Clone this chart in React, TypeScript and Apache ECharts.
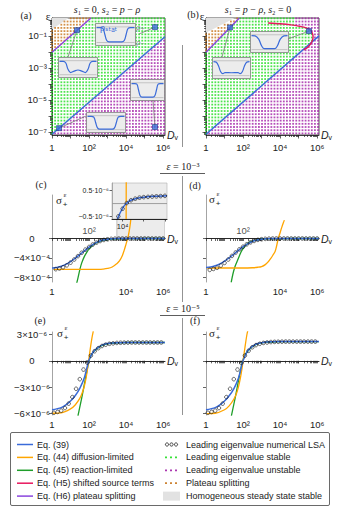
import React, { useEffect, useRef } from "react";
import * as echarts from "echarts";

const SANS = "'Liberation Sans', 'DejaVu Sans', sans-serif";
const SERIF = "'Liberation Serif', 'DejaVu Serif', serif";
const BLUE = "#3a6bd9";
const ORANGE = "#ffa500";
const GREEN = "#1f9e2a";
const RED = "#e8175d";
const PURPLE = "#8a44dd";
const DOT_GREEN = "#22dd22";
const DOT_PURPLE = "#a322a8";
const DOT_ORANGE = "#c8761c";
const GRAY_FILL = "#e2e2e2";
const INK = "#222";

// ---------------- ticks / labels ----------------
const decadeTicksX = [0, 1, 2, 3, 4, 5, 6];
const xLabelVals = [0, 2, 4, 6];
const xLabelTexts = ["1", "10²", "10⁴", "10⁶"];
const xLabelValsCD = [0, 4, 6];
const epsTickVals = [-7, -6, -5, -4, -3, -2, -1, 0];
const epsLabelVals = [-7, -5, -3, -1];
const epsLabelTexts = ["10⁻⁷", "10⁻⁵", "10⁻³", "10⁻¹"];
const sigmaTicksCD = [-8e-4, -4e-4, 0];
const sigmaLabelsCD = ["−8×10⁻⁴", "−4×10⁻⁴", "0"];
const sigmaTicksEF = [-6e-6, -3e-6, 0, 3e-6];
const sigmaLabelsEF = ["−6×10⁻⁶", "−3×10⁻⁶", "0", "3×10⁻⁶"];
const insetTicksC = [-0.5e-6, 0.5e-6];
const insetLabelsC = ["−0.5·10⁻⁶", "0.5·10⁻⁶"];
const insetXTicksC = [4, 5, 6];
const insetXLabelVals = [4];
const insetXLabelTexts = ["10⁴"];

// ---------------- panel (a), (b): exponents log10(Dv), log10(eps) ----------------
const eq39A_logD = [0, 6.1];
const eq39A_logEps = [-7.15, -1.05];
const h6A_logD = [0, 2.1];
const h6A_logEps = [-2.02, 0.12];
const grayA_logD = [0, 0.9, 0];
const grayA_logEps = [0.12, 0.12, -0.58];
const markersA_logD = [5.56, 1.35, 5.56, 0.38];
const markersA_logEps = [-0.45, -0.64, -6.7, -6.77];

const eq39B_logD = [0, 6.1];
const eq39B_logEps = [-7.15, -1.0];
const h6B_logD = [0, 1.8];
const h6B_logEps = [-2.02, 0.12];
const grayB_logD = [0, 1.55, 0];
const grayB_logEps = [0.12, 0.12, -0.8];
const h5B_logD = [3.35, 4.0, 4.59, 5.05, 5.41, 5.62, 5.73, 5.78, 5.74, 5.62, 5.45, 5.28];
const h5B_logEps = [-0.19, -0.24, -0.31, -0.4, -0.5, -0.63, -0.81, -1.05, -1.3, -1.55, -1.75, -1.87];
const unstableB_logD = [4.85, 4.85, 5.41, 5.62, 5.73, 5.78, 5.74, 5.62, 5.45, 5.28, 6.2, 6.2];
const unstableB_logEps = [0.2, -0.37, -0.5, -0.63, -0.81, -1.05, -1.3, -1.55, -1.75, -1.87, -0.9, 0.2];
const markersB_logD = [5.56, 1.3];
const markersB_logEps = [-0.7, -0.47];

// sampling lattice of the numerical LSA (exponents)
const latticeLogD = Array.from({ length: 37 }, (_, i) => +(i * 0.168).toFixed(3));
const latticeLogEps = Array.from({ length: 37 }, (_, j) => +(-7.1 + j * 0.2).toFixed(3));

// ---------------- panel (c), (d): sigma in units of 1e-4 ----------------
const cBlueLogD = [0, 0.25, 0.5, 0.75, 1, 1.25, 1.5, 1.75, 2, 2.25, 2.5, 2.75, 3, 3.25, 3.5, 3.75, 4, 4.5, 5, 5.5, 6.1];
const cBlueVal = [-6.1, -6.0, -5.75, -5.35, -4.8, -4.1, -3.35, -2.55, -1.8, -1.15, -0.65, -0.33, -0.15, -0.06, -0.02, -0.005, 0, 0.002, 0.003, 0.0033, 0.0035];
const dBlueVal = [-6.0, -5.9, -5.65, -5.25, -4.7, -4.0, -3.25, -2.45, -1.7, -1.1, -0.62, -0.32, -0.15, -0.06, -0.02, -0.005, 0, 0, 0, 0, 0];
const cdDotsLogD = [0.2, 0.4, 0.6, 0.8, 1.0, 1.2, 1.4, 1.6, 1.8, 2.0, 2.2, 2.4, 2.6, 2.8, 3.0, 3.2, 3.4, 3.6, 3.8, 4.0, 4.2, 4.4, 4.6, 4.8, 5.0, 5.2, 5.4, 5.6, 5.8, 6.0];
const cDotsVal = [-6.35, -6.2, -5.95, -5.55, -5.0, -4.35, -3.65, -2.95, -2.3, -1.75, -1.25, -0.85, -0.52, -0.3, -0.16, -0.08, -0.035, -0.012, 0, 0, 0, 0, 0, 0, 0, 0, 0, 0, 0, 0];
const dDotsVal = [-6.5, -6.3, -6.05, -5.6, -5.05, -4.35, -3.6, -2.9, -2.25, -1.7, -1.2, -0.8, -0.5, -0.28, -0.15, -0.07, -0.03, -0.01, 0, 0, 0, 0, 0, 0, 0, 0, 0, 0, 0, 0];
const cOrangeLogD = [0.1, 0.5, 1, 1.5, 2, 2.5, 2.75, 3, 3.25, 3.5, 3.65, 3.8, 3.9, 4.0, 4.1, 4.2, 4.3, 4.38];
const cOrangeVal = [-6.4, -6.4, -6.4, -6.4, -6.4, -6.38, -6.33, -6.2, -5.9, -5.2, -4.6, -3.5, -2.4, -1.1, 0.2, 2.3, 5.5, 9.2];
const dOrangeLogD = [0.05, 0.5, 1, 1.5, 2, 2.5, 2.8, 3.0, 3.2, 3.36, 3.5, 3.62, 3.73, 3.82, 3.9, 4.0, 4.09, 4.17, 4.23];
const dOrangeVal = [-6.1, -6.1, -6.1, -6.1, -6.1, -6.05, -5.95, -5.8, -5.4, -4.8, -4.1, -3.4, -2.7, -1.4, 0, 1.2, 2.3, 3.2, 3.8];
const cGreenLogD = [1.33, 1.4, 1.5, 1.6, 1.75, 1.9, 2.0, 2.25, 2.5, 2.75, 3.0, 3.5, 4.0, 5.0, 6.1];
const cGreenVal = [-9.3, -8.2, -6.5, -5.1, -3.7, -2.7, -2.2, -1.25, -0.7, -0.38, -0.21, -0.07, -0.02, -0.002, 0];
const dGreenLogD = [1.36, 1.45, 1.55, 1.65, 1.8, 1.93, 2.1, 2.29, 2.5, 2.83, 3.2, 3.7, 4.5, 6.1];
const dGreenVal = [-9.1, -7.4, -6.0, -5.0, -3.6, -2.5, -1.6, -0.9, -0.55, -0.22, -0.09, -0.03, -0.005, 0];
const zoomBoxC_logD = [3.5, 6.1, 6.1, 3.5];
const zoomBoxC_val = [0.2, 0.2, 4.5, 4.5];

// inset of (c): sigma in units of 1e-6
const ciBlueLogD = [3.65, 3.75, 3.85, 3.95, 4.05, 4.15, 4.25, 4.4, 4.6, 4.8, 5.0, 5.5, 6.1];
const ciBlueVal = [-0.9, -0.62, -0.42, -0.26, -0.12, -0.02, 0.06, 0.13, 0.19, 0.23, 0.25, 0.28, 0.3];
const ciDotsLogD = [3.8, 4.0, 4.2, 4.4, 4.6, 4.8, 5.0, 5.2, 5.4, 5.6, 5.8, 6.0];
const ciDotsVal = [-0.5, -0.2, 0.02, 0.13, 0.19, 0.23, 0.25, 0.26, 0.27, 0.28, 0.29, 0.3];
const ciOrangeLogD = [4.16, 4.17, 4.18];
const ciOrangeVal = [-3, 0, 3];

// ---------------- panel (e), (f): sigma in units of 1e-6 ----------------
const efBlueLogD = [0, 0.25, 0.5, 0.75, 1, 1.25, 1.5, 1.75, 2, 2.25, 2.5, 2.75, 3, 3.5, 4, 5, 6.1];
const eBlueVal = [-5.6, -5.5, -5.35, -5.05, -4.6, -4.0, -3.15, -1.9, 0.1, 1.1, 1.55, 1.85, 1.98, 2.08, 2.1, 2.1, 2.1];
const fBlueVal = [-5.6, -5.5, -5.35, -5.05, -4.6, -4.0, -3.2, -2.0, 0.0, 1.15, 1.65, 1.95, 2.08, 2.18, 2.2, 2.2, 2.2];
const efDotsLogD = [0.1, 0.3, 0.5, 0.7, 0.9, 1.1, 1.3, 1.5, 1.7, 1.9, 2.1, 2.3, 2.5, 2.7, 2.9, 3.1, 3.3, 3.5, 3.7, 3.9, 4.1, 4.3, 4.5, 4.7, 4.9, 5.1, 5.3, 5.5, 5.7, 5.9];
const eDotsVal = [-5.95, -5.85, -5.7, -5.4, -4.9, -4.15, -3.2, -2.1, -1.0, -0.2, 0.6, 1.1, 1.45, 1.7, 1.85, 1.95, 2.0, 2.05, 2.07, 2.08, 2.09, 2.1, 2.1, 2.1, 2.1, 2.1, 2.1, 2.1, 2.1, 2.1];
const fDotsVal = [-5.95, -5.85, -5.7, -5.4, -4.9, -4.15, -3.2, -2.1, -1.0, -0.25, 0.6, 1.15, 1.55, 1.8, 1.95, 2.05, 2.1, 2.15, 2.17, 2.18, 2.19, 2.2, 2.2, 2.2, 2.2, 2.2, 2.2, 2.2, 2.2, 2.2];
const eOrangeLogD = [0.05, 0.5, 1.0, 1.25, 1.5, 1.65, 1.75, 1.85, 1.95, 2.05, 2.15, 2.23];
const eOrangeVal = [-6.0, -5.95, -5.5, -5.05, -4.3, -3.55, -2.85, -1.85, -0.4, 1.15, 2.55, 3.4];
const fOrangeLogD = [0.05, 0.5, 1.0, 1.25, 1.5, 1.65, 1.75, 1.85, 1.95, 2.0, 2.1, 2.2, 2.26];
const fOrangeVal = [-6.05, -6.0, -5.6, -5.15, -4.4, -3.7, -3.0, -2.05, -0.8, 0.0, 1.5, 2.9, 3.5];
const eGreenLogD = [1.4, 1.5, 1.6, 1.7, 1.8, 1.9, 2.0, 2.1, 2.25, 2.5, 2.75, 3.0, 3.5, 4.0, 5, 6.1];
const eGreenVal = [-6.3, -5.3, -4.3, -3.2, -2.1, -1.0, 0.05, 0.6, 1.05, 1.5, 1.8, 1.95, 2.05, 2.1, 2.1, 2.1];
const fGreenLogD = [1.37, 1.47, 1.57, 1.67, 1.77, 1.87, 1.97, 2.1, 2.25, 2.5, 2.75, 3.0, 3.5, 4.0, 5, 6.1];
const fGreenVal = [-6.3, -5.3, -4.3, -3.2, -2.1, -1.0, -0.1, 0.65, 1.1, 1.6, 1.9, 2.05, 2.15, 2.2, 2.2, 2.2];

// ---------------- schematic density profiles for the small insets ----------------
const profU_x = [0, 0.1, 0.17, 0.22, 0.27, 0.33, 0.67, 0.73, 0.78, 0.83, 0.9, 1];
const profU_y = [0.84, 0.84, 0.8, 0.5, 0.2, 0.13, 0.13, 0.2, 0.5, 0.8, 0.84, 0.84];
const profW_x = [0, 0.1, 0.17, 0.23, 0.3, 0.4, 0.5, 0.6, 0.7, 0.77, 0.83, 0.9, 1];
const profW_y = [0.84, 0.84, 0.75, 0.4, 0.22, 0.3, 0.36, 0.3, 0.22, 0.4, 0.75, 0.84, 0.84];
const profS_x = [0, 0.1, 0.2, 0.28, 0.36, 0.64, 0.72, 0.8, 0.9, 1];
const profS_y = [0.84, 0.82, 0.65, 0.3, 0.15, 0.15, 0.3, 0.65, 0.82, 0.84];
const profF_x = [0, 0.08, 0.14, 0.2, 0.26, 0.32, 0.5, 0.68, 0.74, 0.8, 0.86, 0.92, 1];
const profF_y = [0.84, 0.8, 0.6, 0.3, 0.2, 0.26, 0.25, 0.26, 0.2, 0.3, 0.6, 0.8, 0.84];
const refLevels = [0.88, 0.1];

// ---------------- legend ----------------
const legendLines = [
  { label: "Eq. (39)", color: BLUE },
  { label: "Eq. (44) diffusion-limited", color: ORANGE },
  { label: "Eq. (45) reaction-limited", color: GREEN },
  { label: "Eq. (H5) shifted source terms", color: RED },
  { label: "Eq. (H6) plateau splitting", color: PURPLE },
];
const legendMarks = [
  { label: "Leading eigenvalue numerical LSA", kind: "circles", color: "#111" },
  { label: "Leading eigenvalue stable", kind: "dots", color: DOT_GREEN },
  { label: "Leading eigenvalue unstable", kind: "dots", color: DOT_PURPLE },
  { label: "Plateau splitting", kind: "dots", color: DOT_ORANGE },
  { label: "Homogeneous steady state stable", kind: "patch", color: GRAY_FILL },
];

// ---------------- helpers ----------------
const zip = (xs: number[], ys: number[], k = 1) => xs.map((x, i) => [x, ys[i] * k]);
const fmt = (vals: number[], texts: string[]) => (v: number) => {
  for (let i = 0; i < vals.length; i++) {
    if (Math.abs(vals[i] - v) <= Math.abs(vals[i]) * 1e-6 + 1e-15) return texts[i];
  }
  return "";
};
function interp(xs: number[], ys: number[], x: number) {
  let i = 0;
  if (x <= xs[0]) i = 0;
  else if (x >= xs[xs.length - 1]) i = xs.length - 2;
  else while (i < xs.length - 2 && x > xs[i + 1]) i++;
  const t = (x - xs[i]) / (xs[i + 1] - xs[i]);
  return ys[i] + t * (ys[i + 1] - ys[i]);
}
function inPoly(x: number, y: number, xs: number[], ys: number[]) {
  let inside = false;
  for (let i = 0, j = xs.length - 1; i < xs.length; j = i++) {
    if (ys[i] > y !== ys[j] > y && x < ((xs[j] - xs[i]) * (y - ys[i])) / (ys[j] - ys[i]) + xs[i]) inside = !inside;
  }
  return inside;
}
const minorX: number[] = [];
for (let n = 0; n < 6; n++) for (let k = 2; k <= 9; k++) minorX.push(n + Math.log10(k));
const minorEps: number[] = [];
for (let n = -8; n < 0; n++)
  for (let k = 2; k <= 9; k++) {
    const v = n + Math.log10(k);
    if (v > -7.2 && v < 0.12) minorEps.push(v);
  }

function buildOption() {
  const grid: any[] = [];
  const xAxis: any[] = [];
  const yAxis: any[] = [];
  const series: any[] = [];
  const graphic: any[] = [];
  const XR = [0, 6.1];
  const ER = [-7.2, 0.12];
  const tick = { color: INK, width: 0.7 };
  const labelStyle = { fontSize: 9.5, color: INK, fontFamily: SANS };
  const nameStyle = {
    color: INK,
    fontSize: 10.5,
    fontFamily: SANS,
    rich: { i: { fontStyle: "italic", fontSize: 10.5, fontFamily: SANS, color: INK } },
  };

  const G: any = {
    A: { left: 52, top: 18, width: 113, height: 117 },
    B: { left: 206, top: 18, width: 113, height: 117 },
    C: { left: 52, top: 195, width: 113, height: 87 },
    D: { left: 206, top: 195, width: 113, height: 87 },
    E: { left: 52, top: 332, width: 113, height: 83 },
    F: { left: 206, top: 332, width: 113, height: 83 },
    CI: { left: 112, top: 183, width: 55, height: 36 },
  };

  const addGrid = (g: any, frame: boolean) => {
    grid.push({
      left: g.left, top: g.top, width: g.width, height: g.height,
      containLabel: false, show: frame, borderColor: INK, borderWidth: frame ? 0.8 : 0,
      backgroundColor: "transparent",
    });
    return grid.length - 1;
  };
  const addX = (o: any) => { xAxis.push({ type: "value", splitLine: { show: false }, ...o }); return xAxis.length - 1; };
  const addY = (o: any) => { yAxis.push({ type: "value", splitLine: { show: false }, ...o }); return yAxis.length - 1; };

  const line = (xi: number, yi: number, data: any[], color: string, z = 4, width = 1.3, smooth: any = 0.35) => ({
    type: "line", xAxisIndex: xi, yAxisIndex: yi, data, showSymbol: false, symbol: "none",
    smooth, lineStyle: { color, width }, z, silent: true, clip: true, emphasis: { disabled: true },
  });
  const dots = (xi: number, yi: number, data: any[], z = 6) => ({
    type: "scatter", xAxisIndex: xi, yAxisIndex: yi, data, symbol: "circle", symbolSize: 3.6,
    itemStyle: { color: "rgba(255,255,255,0)", borderColor: "#151515", borderWidth: 0.8 }, z, silent: true, clip: true,
  });
  const poly = (xi: number, yi: number, pts: number[][], fill: string, stroke: string | null, z: number) => ({
    type: "custom", xAxisIndex: xi, yAxisIndex: yi, z, silent: true, clip: true, data: pts,
    renderItem: (params: any, api: any) => {
      if (params.dataIndex !== 0) return null;
      return {
        type: "polygon",
        shape: { points: pts.map((p) => api.coord(p)) },
        style: { fill, stroke: stroke || "none", lineWidth: 0.6 },
      };
    },
  });

  // ---------- panels (a) and (b) ----------
  const framePanel = (g: any, showYLabels: boolean) => {
    const gi = addGrid(g, true);
    const xi = addX({
      gridIndex: gi, min: XR[0], max: XR[1], position: "bottom",
      axisLine: { show: true, onZero: false, lineStyle: { color: INK, width: 0.8 } },
      axisTick: { show: true, customValues: decadeTicksX, length: 3.5, lineStyle: tick },
      axisLabel: { show: true, customValues: xLabelVals, formatter: fmt(xLabelVals, xLabelTexts), margin: 7, ...labelStyle },
      name: "{i|D}ᵥ", nameLocation: "end", nameGap: 2, nameTextStyle: nameStyle,
    });
    addX({
      gridIndex: gi, min: XR[0], max: XR[1], position: "bottom",
      axisLine: { show: false, onZero: false },
      axisTick: { show: true, customValues: minorX, length: 2, lineStyle: tick },
      axisLabel: { show: false },
    });
    const yi = addY({
      gridIndex: gi, min: ER[0], max: ER[1], position: "left",
      axisLine: { show: true, onZero: false, lineStyle: { color: INK, width: 0.8 } },
      axisTick: { show: true, customValues: epsTickVals, length: 3.5, lineStyle: tick },
      axisLabel: { show: showYLabels, customValues: epsLabelVals, formatter: fmt(epsLabelVals, epsLabelTexts), margin: 5, ...labelStyle },
    });
    addY({
      gridIndex: gi, min: ER[0], max: ER[1], position: "left",
      axisLine: { show: false, onZero: false },
      axisTick: { show: true, customValues: minorEps, length: 2, lineStyle: tick },
      axisLabel: { show: false },
    });
    return { gi, xi, yi };
  };

  const lattice = (xi: number, yi: number, cls: (x: number, y: number) => string) => {
    const b: any = { s: [], u: [], p: [] };
    for (const x of latticeLogD) for (const y of latticeLogEps) {
      const c = cls(x, y);
      if (c) b[c].push([x, y]);
    }
    const mk = (data: any[], color: string) => ({
      type: "scatter", xAxisIndex: xi, yAxisIndex: yi, data, symbol: "rect", symbolSize: 1.8,
      itemStyle: { color }, z: 2, silent: true, clip: true,
    });
    series.push(mk(b.s, DOT_GREEN), mk(b.u, DOT_PURPLE), mk(b.p, DOT_ORANGE));
  };

  const pxToData = (g: any, xr: number[], yr: number[], px: number, py: number) => [
    xr[0] + ((px - g.left) / g.width) * (xr[1] - xr[0]),
    yr[1] - ((py - g.top) / g.height) * (yr[1] - yr[0]),
  ];

  const pa = framePanel(G.A, true);
  series.push(poly(pa.xi, pa.yi, zip(grayA_logD, grayA_logEps), GRAY_FILL, null, 1));
  lattice(pa.xi, pa.yi, (x, y) => {
    if (inPoly(x, y, grayA_logD, grayA_logEps)) return "";
    if (y > interp(h6A_logD, h6A_logEps, x)) return "p";
    if (y < interp(eq39A_logD, eq39A_logEps, x)) return "u";
    return "s";
  });
  series.push(line(pa.xi, pa.yi, zip(eq39A_logD, eq39A_logEps), BLUE, 4, 1.4, false));
  series.push(line(pa.xi, pa.yi, zip(h6A_logD, h6A_logEps), PURPLE, 4, 1.4, false));

  const pb = framePanel(G.B, false);
  series.push(poly(pb.xi, pb.yi, zip(grayB_logD, grayB_logEps), GRAY_FILL, null, 1));
  lattice(pb.xi, pb.yi, (x, y) => {
    if (inPoly(x, y, grayB_logD, grayB_logEps)) return "";
    if (y > interp(h6B_logD, h6B_logEps, x)) return "p";
    if (y < interp(eq39B_logD, eq39B_logEps, x)) return "u";
    if (inPoly(x, y, unstableB_logD, unstableB_logEps)) return "u";
    return "s";
  });
  series.push(line(pb.xi, pb.yi, zip(eq39B_logD, eq39B_logEps), BLUE, 4, 1.4, false));
  series.push(line(pb.xi, pb.yi, zip(h6B_logD, h6B_logEps), PURPLE, 4, 1.4, false));
  series.push(line(pb.xi, pb.yi, zip(h5B_logD, h5B_logEps), RED, 4, 1.4, 0.3));

  // schematic insets (layout boxes in pixels)
  const insets = [
    { left: 95, top: 23, width: 40, height: 22, px: profU_x, py: profU_y },
    { left: 58, top: 57, width: 39, height: 20, px: profW_x, py: profW_y },
    { left: 130, top: 79, width: 34, height: 21, px: profU_x, py: profU_y },
    { left: 86, top: 112, width: 39, height: 20, px: profU_x, py: profU_y },
    { left: 250, top: 31, width: 38, height: 21, px: profS_x, py: profS_y },
    { left: 212, top: 57, width: 38, height: 21, px: profF_x, py: profF_y },
  ];
  insets.forEach((b) => {
    graphic.push({
      type: "rect", z: 10, silent: true,
      shape: { x: b.left + 0.5, y: b.top + 0.5, width: b.width, height: b.height },
      style: { fill: "#ececec", stroke: "#808080", lineWidth: 0.8 },
    });
    const gi = addGrid({ left: b.left + 1.5, top: b.top + 1.5, width: b.width - 2, height: b.height - 2 }, false);
    const xi = addX({ gridIndex: gi, min: 0, max: 1, show: false });
    const yi = addY({ gridIndex: gi, min: 0, max: 1, show: false });
    refLevels.forEach((r) => series.push(line(xi, yi, [[0, r], [1, r]], "#a8a8a8", 20, 0.6, false)));
    series.push(line(xi, yi, zip(b.px, b.py), BLUE, 21, 1.2, 0.4));
  });

  // pointers from markers to insets
  const anchorsA = [[139, 34], [68, 57], [153, 100], [86, 116]];
  const anchorsB = [[288, 39], [222, 57]];
  markersA_logD.forEach((x, i) => {
    const a = pxToData(G.A, XR, ER, anchorsA[i][0], anchorsA[i][1]);
    series.push(line(pa.xi, pa.yi, [[x, markersA_logEps[i]], a], "#7a7a7a", 12, 0.8, false));
  });
  markersB_logD.forEach((x, i) => {
    const a = pxToData(G.B, XR, ER, anchorsB[i][0], anchorsB[i][1]);
    series.push(line(pb.xi, pb.yi, [[x, markersB_logEps[i]], a], "#7a7a7a", 12, 0.8, false));
  });
  const markerStyle = { color: BLUE, borderColor: "#13357f", borderWidth: 0.7 };
  series.push({ type: "scatter", xAxisIndex: pa.xi, yAxisIndex: pa.yi, data: zip(markersA_logD, markersA_logEps), symbol: "rect", symbolSize: 5, itemStyle: markerStyle, z: 25, silent: true });
  series.push({ type: "scatter", xAxisIndex: pb.xi, yAxisIndex: pb.yi, data: zip(markersB_logD, markersB_logEps), symbol: "rect", symbolSize: 5, itemStyle: markerStyle, z: 25, silent: true });

  // ---------- panels (c)-(f) ----------
  const sigmaPanel = (g: any, yr: number[], yTicks: number[], yLabels: string[] | null, xLabs: number[]) => {
    const gi = addGrid(g, false);
    const xi = addX({
      gridIndex: gi, min: XR[0], max: XR[1], position: "bottom",
      axisLine: { show: true, onZero: true, lineStyle: { color: "#111", width: 0.9 } },
      axisTick: { show: true, customValues: decadeTicksX.concat(minorX), length: 2.5, lineStyle: tick },
      axisLabel: { show: true, customValues: xLabs, formatter: fmt(xLabelVals, xLabelTexts), margin: 4, ...labelStyle },
      name: "{i|D}ᵥ", nameLocation: "end", nameGap: 2, nameTextStyle: nameStyle,
    });
    const yi = addY({
      gridIndex: gi, min: yr[0], max: yr[1], position: "left",
      axisLine: { show: true, onZero: false, lineStyle: { color: "#9a9a9a", width: 0.9 } },
      axisTick: { show: true, customValues: yTicks, length: 3, lineStyle: tick },
      axisLabel: { show: !!yLabels, customValues: yTicks, formatter: fmt(yTicks, yLabels || []), margin: 20, align: "center", ...labelStyle },
    });
    return { gi, xi, yi };
  };
  const above102 = (xi: number, yi: number) => ({
    type: "scatter", xAxisIndex: xi, yAxisIndex: yi, data: [[2, 0]], symbolSize: 0, silent: true, z: 8,
    label: { show: true, position: "top", distance: 3, formatter: "10²", ...labelStyle },
  });

  const E4 = 1e-4;
  const E6 = 1e-6;
  const pc = sigmaPanel(G.C, [-9e-4, 9e-4], sigmaTicksCD, sigmaLabelsCD, xLabelValsCD);
  series.push(poly(pc.xi, pc.yi, zip(zoomBoxC_logD, zoomBoxC_val, E4), "#ececec", "#a0a0a0", 1));
  series.push(line(pc.xi, pc.yi, zip(cGreenLogD, cGreenVal, E4), GREEN, 3));
  series.push(line(pc.xi, pc.yi, zip(cOrangeLogD, cOrangeVal, E4), ORANGE, 3));
  series.push(line(pc.xi, pc.yi, zip(cBlueLogD, cBlueVal, E4), BLUE, 4, 1.5));
  series.push(dots(pc.xi, pc.yi, zip(cdDotsLogD, cDotsVal, E4)));
  series.push(above102(pc.xi, pc.yi));

  // inset of (c)
  graphic.push({
    type: "rect", z: 10, silent: true,
    shape: { x: G.CI.left, y: G.CI.top, width: G.CI.width, height: G.CI.height },
    style: { fill: "#ececec", stroke: "#b0b0b0", lineWidth: 0.6 },
  });
  const giCI = addGrid(G.CI, false);
  const xiCI = addX({
    gridIndex: giCI, min: 3.5, max: 6.1, position: "bottom", z: 23,
    axisLine: { show: true, onZero: false, lineStyle: { color: "#111", width: 0.9 } },
    axisTick: { show: true, customValues: insetXTicksC, length: 2.5, lineStyle: tick },
    axisLabel: { show: true, customValues: insetXLabelVals, formatter: fmt(insetXLabelVals, insetXLabelTexts), margin: 3, fontSize: 7.5, color: INK, fontFamily: SANS },
  });
  const yiCI = addY({
    gridIndex: giCI, min: -0.6e-6, max: 0.8e-6, position: "left", z: 23,
    axisLine: { show: true, onZero: false, lineStyle: { color: "#9a9a9a", width: 0.8 } },
    axisTick: { show: true, customValues: insetTicksC, length: 2.5, lineStyle: tick },
    axisLabel: { show: true, customValues: insetTicksC, formatter: fmt(insetTicksC, insetLabelsC), margin: 3, fontSize: 7, color: INK, fontFamily: SANS },
  });
  series.push(line(xiCI, yiCI, [[3.5, 0], [6.1, 0]], "#8a8a8a", 20, 0.8, false));
  series.push(line(xiCI, yiCI, zip(ciOrangeLogD, ciOrangeVal, E6), ORANGE, 21, 1.3, false));
  series.push(line(xiCI, yiCI, zip(ciBlueLogD, ciBlueVal, E6), BLUE, 21, 1.5));
  series.push(dots(xiCI, yiCI, zip(ciDotsLogD, ciDotsVal, E6), 22));

  const pd = sigmaPanel(G.D, [-9e-4, 9e-4], sigmaTicksCD, null, xLabelValsCD);
  series.push(line(pd.xi, pd.yi, zip(dGreenLogD, dGreenVal, E4), GREEN, 3));
  series.push(line(pd.xi, pd.yi, zip(dOrangeLogD, dOrangeVal, E4), ORANGE, 3));
  series.push(line(pd.xi, pd.yi, zip(cBlueLogD, dBlueVal, E4), BLUE, 4, 1.5));
  series.push(dots(pd.xi, pd.yi, zip(cdDotsLogD, dDotsVal, E4)));
  series.push(above102(pd.xi, pd.yi));

  const pe = sigmaPanel(G.E, [-6.2e-6, 3.3e-6], sigmaTicksEF, sigmaLabelsEF, xLabelVals);
  series.push(line(pe.xi, pe.yi, zip(eGreenLogD, eGreenVal, E6), GREEN, 3));
  series.push(line(pe.xi, pe.yi, zip(eOrangeLogD, eOrangeVal, E6), ORANGE, 3));
  series.push(line(pe.xi, pe.yi, zip(efBlueLogD, eBlueVal, E6), BLUE, 4, 1.5));
  series.push(dots(pe.xi, pe.yi, zip(efDotsLogD, eDotsVal, E6)));

  const pf = sigmaPanel(G.F, [-6.2e-6, 3.3e-6], sigmaTicksEF, null, xLabelVals);
  series.push(line(pf.xi, pf.yi, zip(fGreenLogD, fGreenVal, E6), GREEN, 3));
  series.push(line(pf.xi, pf.yi, zip(fOrangeLogD, fOrangeVal, E6), ORANGE, 3));
  series.push(line(pf.xi, pf.yi, zip(efBlueLogD, fBlueVal, E6), BLUE, 4, 1.5));
  series.push(dots(pf.xi, pf.yi, zip(efDotsLogD, fDotsVal, E6)));

  // ---------- texts and decorations ----------
  const txt = (x: number, y: number, text: string, o: any = {}) => ({
    type: "text", z: 30, silent: true,
    style: { x, y, text, fill: INK, font: `${o.size || 10}px ${o.family || SANS}`, align: o.align || "center", verticalAlign: "middle", rich: o.rich, ...(o.extra || {}) },
  });
  const mathRich = {
    i: { fontStyle: "italic", fontSize: 10, fontFamily: SERIF, fill: INK, color: INK },
  };
  graphic.push(txt(107, 9, "{i|s}₁ = 0, {i|s}₂ = {i|p} − {i|ρ}", { family: SERIF, rich: mathRich }));
  graphic.push(txt(258, 9, "{i|s}₁ = {i|p} − {i|ρ}, {i|s}₂ = 0", { family: SERIF, rich: mathRich }));
  graphic.push(txt(26, 15, "(a)", { family: SERIF }));
  graphic.push(txt(193, 14, "(b)", { family: SERIF }));
  graphic.push(txt(41, 184, "(c)", { family: SERIF }));
  graphic.push(txt(195, 185, "(d)", { family: SERIF }));
  graphic.push(txt(40, 320, "(e)", { family: SERIF }));
  graphic.push(txt(195, 320, "(f)", { family: SERIF }));
  graphic.push(txt(48, 16, "ε", { family: SERIF, size: 11, extra: { fontStyle: "italic" } }));
  graphic.push(txt(202, 16, "ε", { family: SERIF, size: 11, extra: { fontStyle: "italic" } }));
  graphic.push(txt(183, 166, "{i|ε} = 10⁻³", { family: SERIF, rich: mathRich }));
  graphic.push(txt(183, 308, "{i|ε} = 10⁻⁵", { family: SERIF, rich: mathRich }));
  // rho labels in the first inset
  graphic.push(txt(100, 28, "ρₛₜₐₜ", { size: 9, align: "left", extra: { fill: BLUE } }));
  graphic.push(txt(136, 27, "ρ₊", { size: 8, align: "left", extra: { fill: "#8a8a8a" } }));
  graphic.push(txt(136, 42, "ρ₋", { size: 8, align: "left", extra: { fill: "#8a8a8a" } }));
  // sigma labels
  const sigmaLabel = (x: number, y: number) => {
    graphic.push(txt(x, y, "σ", { family: SERIF, size: 11, extra: { fontStyle: "italic" } }));
    graphic.push(txt(x + 6, y - 5, "ε", { family: SERIF, size: 7, extra: { fontStyle: "italic" } }));
    graphic.push(txt(x + 6, y + 4, "+", { size: 8 }));
  };
  sigmaLabel(59, 200);
  sigmaLabel(212, 199);
  sigmaLabel(60, 333);
  sigmaLabel(212, 333);

  const seg = (x1: number, y1: number, x2: number, y2: number, color = "#777", w = 0.8) => ({
    type: "line", z: 30, silent: true, shape: { x1, y1, x2, y2 }, style: { stroke: color, lineWidth: w },
  });
  graphic.push(seg(182.5, 45, 182.5, 147));
  graphic.push(seg(182.5, 176, 182.5, 302));
  graphic.push(seg(182.5, 318, 182.5, 415));
  graphic.push(seg(160, 173.5, 205, 173.5, "#333"));
  graphic.push(seg(160, 315.5, 205, 315.5, "#333"));

  // ---------- legend ----------
  graphic.push({
    type: "rect", z: 30, silent: true,
    shape: { x: 10.5, y: 432.5, width: 319, height: 73, r: 1.5 },
    style: { fill: "#fff", stroke: "#444", lineWidth: 0.8 },
  });
  const rowY = (i: number) => 444.5 + i * 12.9;
  legendLines.forEach((it, i) => {
    graphic.push(seg(17, rowY(i), 33, rowY(i), it.color, 1.5));
    graphic.push(txt(37, rowY(i), it.label, { size: 9, align: "left" }));
  });
  legendMarks.forEach((it, i) => {
    const y = rowY(i);
    if (it.kind === "circles") {
      [167, 171.5, 176].forEach((cx) =>
        graphic.push({ type: "circle", z: 31, silent: true, shape: { cx, cy: y, r: 1.6 }, style: { fill: "none", stroke: it.color, lineWidth: 0.8 } })
      );
    } else if (it.kind === "dots") {
      [166, 171, 176].forEach((cx) =>
        graphic.push({ type: "rect", z: 31, silent: true, shape: { x: cx - 0.9, y: y - 0.9, width: 1.8, height: 1.8 }, style: { fill: it.color } })
      );
    } else {
      graphic.push({ type: "rect", z: 31, silent: true, shape: { x: 163, y: y - 4.5, width: 17, height: 9 }, style: { fill: it.color } });
    }
    graphic.push(txt(186, y, it.label, { size: 9, align: "left" }));
  });

  return {
    animation: false,
    backgroundColor: "#ffffff",
    textStyle: { fontFamily: SANS },
    grid, xAxis, yAxis, series, graphic,
  };
}

export default function App() {
  const ref = useRef<HTMLDivElement>(null);
  useEffect(() => {
    if (!ref.current) return;
    const chart = echarts.init(ref.current, undefined, { renderer: "svg" });
    chart.setOption(buildOption() as any);
    return () => chart.dispose();
  }, []);
  return <div ref={ref} style={{ position: "absolute", left: 0, top: 0, width: 339, height: 512 }} />;
}
